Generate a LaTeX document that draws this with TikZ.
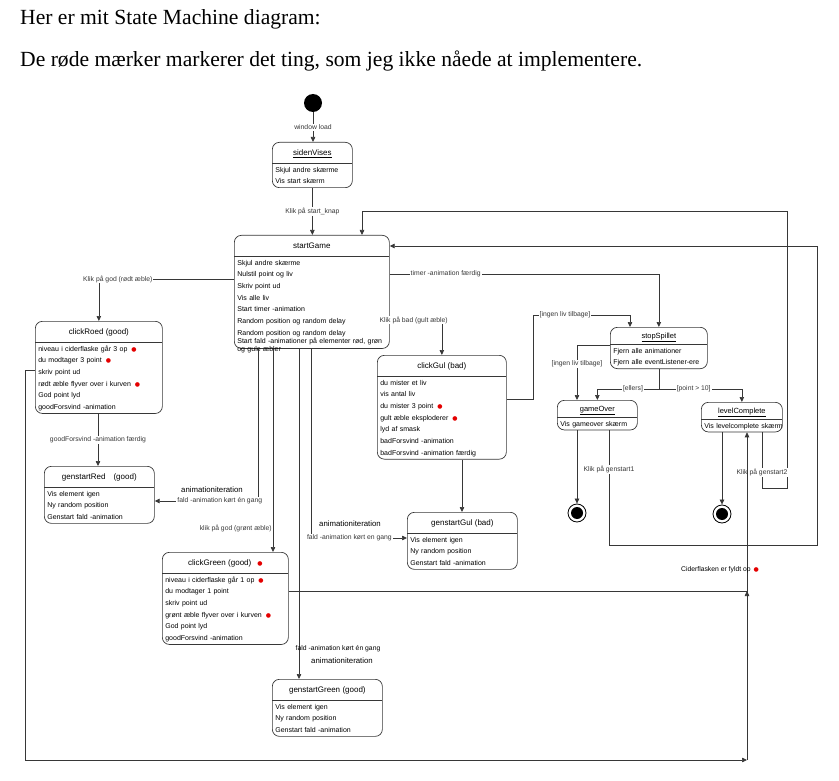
\documentclass[tikz,border=0pt]{standalone}
\usepackage{fontspec}
\setmainfont{Liberation Sans}
\newfontfamily\headfont{Liberation Serif}
\newfontfamily\dotfont{DejaVu Sans}
\usepackage{xcolor}
\usepackage{tikz}
\usetikzlibrary{shapes.multipart, arrows.meta, calc}
\setlength{\parindent}{0pt}
\definecolor{linecolor}{RGB}{55,55,55}
\definecolor{markred}{RGB}{228,0,0}
\newcommand{\rdot}{{\dotfont\fontsize{6}{6}\selectfont\textcolor{markred}{●}}}
\newcommand{\ls}{\rule[-3.5pt]{0pt}{11.7pt}}
\newcommand{\stitle}[1]{\hbox to\hsize{\hss\fontsize{8}{10}\selectfont\rule[-7.5pt]{0pt}{20.5pt}#1\hss}}
\newcommand{\utitle}[1]{\hbox to\hsize{\hss\fontsize{7.5}{10}\selectfont\rule[-5.5pt]{0pt}{16.5pt}\underline{#1}\hss}}

\begin{document}
\begin{tikzpicture}[
    x=1pt, y=-1pt,
    head/.style={font=\headfont\fontsize{21.6}{24}\selectfont, inner sep=0pt, anchor=west},
    state/.style={rectangle split, rectangle split parts=2, draw=linecolor, line width=0.7pt, rounded corners=7pt, inner xsep=3pt, inner ysep=0pt, align=left, anchor=north west, font=\fontsize{7}{11.7}\selectfont},
    initial/.style={circle, fill=black, minimum size=18pt, inner sep=0pt},
    final/.style={circle, draw=black, line width=0.8pt, minimum size=18pt, inner sep=0pt, path picture={\fill[black] (path picture bounding box.center) circle (6pt);}},
    arrow/.style={-{Triangle[length=5pt, width=4.5pt]}, line width=0.7pt, linecolor},
    wire/.style={line width=0.7pt, linecolor},
    lbl/.style={font=\fontsize{6.8}{8}\selectfont, fill=white, inner sep=1pt},
    biglbl/.style={font=\fontsize{7.8}{9}\selectfont, inner sep=1pt}
]
    \useasboundingbox (0,0) rectangle (839,781);

    % Heading
    \node[head] (head1) at (20,19) {Her er mit State Machine diagram:};
    \node[head] (head2) at (20,61) {De røde mærker markerer det ting, som jeg ikke nåede at implementere.};

    % Start and end points
    \node[initial] (init) at (313,103) {};
    \node[final] (end1) at (577,513) {};
    \node[final] (end2) at (722,514) {};

    % States
    \node[state, text width=74pt] (sidenVises) at (272,142)
        {\stitle{\underline{sidenVises}}\nodepart{two}\ls Skjul andre skærme\\Vis start skærm\ls};
    \node[state, text width=149pt] (startGame) at (234,235)
        {\stitle{startGame}\nodepart{two}\ls Skjul andre skærme\\Nulstil point og liv\\Skriv point ud\\Vis alle liv\\Start timer -animation\\Random position og random delay\\Random position og random delay\\[-3.4pt]\mbox{Start fald -animationer på elementer rød, grøn}\\[-3.7pt]\smash{og gule æbler}\vspace{-3.5pt}};
    \node[state, text width=121pt] (clickRoed) at (35,321)
        {\stitle{clickRoed (good)}\nodepart{two}\ls niveau i ciderflaske går 3 op\hspace{4pt}\rdot\\du modtager 3 point\hspace{4pt}\rdot\\skriv point ud\\rødt æble flyver over i kurven\hspace{4pt}\rdot\\God point lyd\\goodForsvind -animation\ls};
    \node[state, text width=104pt] (genstartRed) at (44,466)
        {\stitle{genstartRed\hspace{8pt}(good)}\nodepart{two}\ls Vis element igen\\Ny random position\\Genstart fald -animation\ls};
    \node[state, text width=123pt] (clickGul) at (377,355)
        {\stitle{clickGul (bad)}\nodepart{two}\ls du mister et liv\\vis antal liv\\du mister 3 point\hspace{4pt}\rdot\\gult æble eksploderer\hspace{4pt}\rdot\\lyd af smask\\badForsvind -animation\\badForsvind -animation færdig\ls};
    \node[state, text width=104pt] (genstartGul) at (407,512)
        {\stitle{genstartGul (bad)}\nodepart{two}\ls Vis element igen\\Ny random position\\Genstart fald -animation\ls};
    \node[state, text width=120pt] (clickGreen) at (162,552)
        {\stitle{clickGreen (good)\hspace{6pt}\rdot}\nodepart{two}\ls niveau i ciderflaske går 1 op\hspace{4pt}\rdot\\du modtager 1 point\\skriv point ud\\grønt æble flyver over i kurven\hspace{4pt}\rdot\\God point lyd\\goodForsvind -animation\ls};
    \node[state, text width=104pt] (genstartGreen) at (272,679)
        {\stitle{genstartGreen (good)}\nodepart{two}\ls Vis element igen\\Ny random position\\Genstart fald -animation\ls};
    \node[state, text width=91pt] (stopSpillet) at (610,327)
        {\utitle{stopSpillet}\nodepart{two}\ls Fjern alle animationer\\\mbox{Fjern alle eventListener-ere}\ls};
    \node[state, text width=74pt] (gameOver) at (557,400)
        {\utitle{gameOver}\nodepart{two}\ls\mbox{Vis gameover skærm}\ls};
    \node[state, text width=75pt] (levelComplete) at (701,402)
        {\utitle{levelComplete}\nodepart{two}\ls\mbox{Vis levelcomplete skærm}\ls};

    % Join points
    \coordinate (cider) at (747,591);
    \coordinate (bottom) at (747,760);

    % Transitions
    \draw[arrow] (init.south) -- (init.south |- sidenVises.north) node[lbl, midway] (l-load) {window load};
    \draw[arrow] (sidenVises.south) -- (sidenVises.south |- startGame.north) node[lbl, midway] (l-knap) {Klik på start\_knap};
    \draw[arrow] (startGame.west |- 0,279) -| (clickRoed.north) node[lbl, pos=0.43] (l-roed) {Klik på god (rødt æble)};
    \draw[arrow] (startGame.east |- 0,274) -| (stopSpillet.north) node[lbl, pos=0.104] (l-timer) {timer -animation færdig};
    \draw[arrow] (startGame.east |- 0,320) -| (clickGul.north) node[lbl, pos=0.23] (l-gul) {Klik på bad (gult æble)};
    \draw[arrow] (startGame.south -| 258,0) |- (genstartRed.east |- 0,501) node[lbl, pos=0.685] (l-fald1) {fald -animation kørt én gang};
    \node[biglbl] (l-iter1) at (212,490) {animationiteration};
    \draw[arrow] (startGame.south -| 273,0) -- (clickGreen.north -| 273,0) node[pos=0.883, left, font=\fontsize{6.8}{8}\selectfont, inner sep=1pt] (l-green) {klik på god (grønt æble)};
    \draw[arrow] (startGame.south -| 311,0) |- (genstartGul.west |- 0,538) node[lbl, pos=0.7] (l-fald2) {fald -animation kørt en gang};
    \node[biglbl] (l-iter2) at (350,524) {animationiteration};
    \draw[arrow] (startGame.south -| 299,0) -- (genstartGreen.north -| 299,0);
    \node[font=\fontsize{6.8}{8}\selectfont, inner sep=1pt] (l-fald3) at (338,649) {fald -animation kørt én gang};
    \node[biglbl] (l-iter3) at (342,661) {animationiteration};
    \draw[arrow] (clickRoed.south -| 98,0) -- (genstartRed.north -| 98,0) node[lbl, midway] (l-gforsv) {goodForsvind -animation færdig};
    \draw[arrow] (clickGul.south -| 462,0) -- (genstartGul.north -| 462,0);
    \draw[arrow] (clickGul.east |- 0,399) -| (533,315) -| (stopSpillet.north -| 630,0) node[lbl, pos=0.165] (l-liv1) {[ingen liv tilbage]};
    \draw[arrow] (stopSpillet.west |- 0,345) -| (gameOver.north -| 577,0) node[lbl, pos=0.67] (l-liv2) {[ingen liv tilbage]};
    \draw[arrow] (stopSpillet.south) -- (stopSpillet.south |- 0,389) -| (gameOver.north) node[lbl, pos=0.21] (l-ellers) {[ellers]};
    \draw[arrow] (stopSpillet.south) -- (stopSpillet.south |- 0,389) -| (levelComplete.north) node[lbl, pos=0.21] (l-point) {[point > 10]};
    \draw[arrow] (gameOver.south -| 577,0) -- (end1);
    \draw[arrow] (gameOver.south -| 609,0) |- node[lbl, pos=0.17] (l-gs1) {Klik på genstart1} (817,545) |- (startGame.east |- 0,246);
    \draw[arrow] (levelComplete.south -| 722,0) -- (end2);
    \draw[arrow] (levelComplete.south -| 762,0) |- node[lbl, pos=0.36] (l-gs2) {Klik på genstart2} (787,488) |- (362,211) -- (startGame.north -| 362,0);
    \draw[arrow] (clickRoed.west |- 0,370) -| (25,760) -- (bottom);
    \draw[arrow] (bottom) -- (levelComplete.south -| bottom);
    \draw[wire] (clickGreen.east |- cider) -- (cider);
    \draw[arrow] ([yshift=-5pt]cider) -- (cider);
    \node[font=\fontsize{6.8}{8}\selectfont, inner sep=1pt] (l-cider) at (720,570) {Ciderflasken er fyldt op\hspace{3pt}\rdot};
\end{tikzpicture}
\end{document}
